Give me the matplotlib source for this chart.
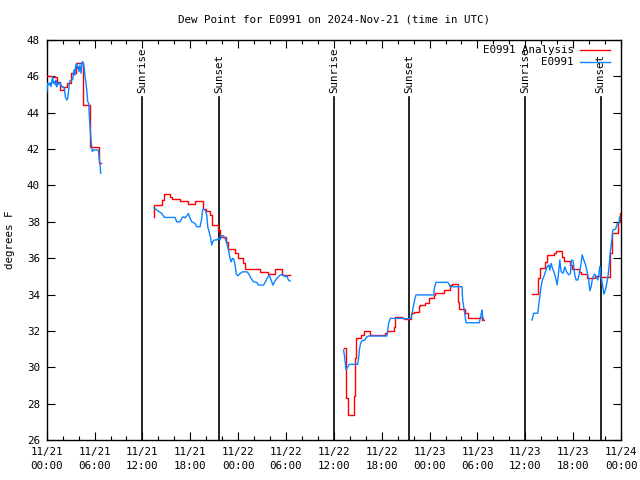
import matplotlib
matplotlib.use("Agg")
import matplotlib.pyplot as plt
from matplotlib.ticker import MultipleLocator

plt.rcParams['font.family'] = ['DejaVu Sans Mono']
FS = 7.8

title = "Dew Point for E0991 on 2024-Nov-21 (time in UTC)"
ylabel = "degrees F"
xtick_hours = [0, 6, 12, 18, 24, 30, 36, 42, 48, 54, 60, 66, 72]
xtick_labels = ["11/21\n00:00", "11/21\n06:00", "11/21\n12:00", "11/21\n18:00",
                "11/22\n00:00", "11/22\n06:00", "11/22\n12:00", "11/22\n18:00",
                "11/23\n00:00", "11/23\n06:00", "11/23\n12:00", "11/23\n18:00",
                "11/24\n00:00"]
sunrise_hours = [12.0, 36.05, 59.95]
sunset_hours = [21.6, 45.45, 69.45]

# Analysis (red), hours since 11/21 00:00 UTC, step series, one list per data segment
red_t = [
    [0, 0.62, 1.25, 1.67, 2.21, 2.51, 3.05, 3.63, 4.6, 5.43, 6.6, 6.8],
    [13.45, 13.5, 14.42, 14.76, 15.47, 15.76, 16.72, 17.68, 18.6, 19.65, 19.94, 20.49,
     20.69, 21.53, 21.74, 22.49, 22.79, 23.62, 24.04, 24.67, 24.88, 26.76, 27.72,
     28.64, 29.56, 30.5],
    [37.22, 37.51, 37.72, 38.47, 38.6, 38.77, 39.44, 39.73, 40.48, 42.45, 42.66,
     43.49, 43.7, 44.54, 44.75, 45.71, 46.0, 46.63, 46.84, 47.47, 47.89, 48.51,
     48.72, 49.77, 50.6, 50.81, 51.57, 51.73, 52.4, 52.82, 54.37, 54.58, 54.79],
    [60.85, 61.56, 61.82, 62.53, 62.74, 63.57, 63.87, 64.62, 64.83, 65.66, 65.87,
     66.71, 67.0, 67.75, 68.8, 69.43, 70.6, 70.85, 71.65, 71.85, 72.0],
]
red_v = [
    [46.04, 45.95, 45.67, 45.25, 45.43, 45.62, 46.17, 46.72, 44.43, 42.13, 41.22, 41.22],
    [38.28, 38.9, 39.2, 39.51, 39.38, 39.25, 39.14, 38.98, 39.14, 38.7, 38.59, 38.37,
     37.82, 37.55, 37.18, 36.9, 36.5, 36.26, 36.02, 35.71, 35.4, 35.22, 35.11,
     35.38, 35.07, 35.07],
    [31.04, 28.29, 27.38, 28.4, 30.49, 31.59, 31.78, 32.01, 31.78, 31.87, 32.01,
     32.2, 32.78, 32.69, 32.64, 32.97, 33.06, 33.37, 33.43, 33.55, 33.79, 33.98,
     34.1, 34.25, 34.53, 34.56, 33.6, 33.19, 32.97, 32.69, 32.78, 32.6, 32.6],
    [34.01, 34.9, 35.44, 35.8, 36.18, 36.27, 36.41, 36.08, 35.85, 35.63, 35.39,
     35.26, 35.13, 34.89, 35.02, 34.95, 36.27, 37.37, 38.01, 38.5, 38.5],
]

# Observations (blue)
blue_t = [
    [0.0, 0.12, 0.29, 0.41, 0.54, 0.67, 0.75, 0.83, 0.96, 1.08, 1.17, 1.25, 1.38, 1.5,
     1.67, 1.79, 1.92, 2.09, 2.21, 2.34, 2.51, 2.63, 2.76, 2.84, 2.92, 3.13, 3.26,
     3.34, 3.43, 3.51, 3.59, 3.68, 3.76, 3.89, 3.97, 4.05, 4.18, 4.3, 4.39, 4.47,
     4.6, 4.68, 4.81, 4.93, 5.02, 5.14, 5.27, 5.35, 5.43, 5.52, 5.64, 5.73, 5.85,
     6.06, 6.27, 6.48, 6.56, 6.69, 6.77],
    [13.46, 13.79, 14.0, 14.21, 14.42, 14.76, 16.09, 16.3, 16.72, 16.93, 17.14, 17.35,
     17.56, 17.77, 17.98, 18.19, 18.6, 18.81, 19.23, 19.44, 19.52, 19.65, 19.86,
     20.07, 20.19, 20.36, 20.53, 20.69, 20.82, 20.99, 21.32, 21.53, 21.74, 21.87,
     22.16, 22.37, 22.58, 22.79, 22.99, 23.12, 23.29, 23.45, 23.62, 23.75, 23.96,
     24.25, 24.54, 25.09, 25.3, 25.63, 25.92, 26.34, 26.55, 27.18, 27.39, 27.64,
     27.89, 28.14, 28.35, 28.56, 28.85, 29.06, 29.27, 29.48, 29.69, 29.9, 30.11,
     30.31, 30.52],
    [37.22, 37.35, 37.51, 37.72, 37.93, 38.98, 39.1, 39.23, 39.35, 39.52, 39.86, 40.15,
     40.36, 42.66, 42.87, 43.08, 44.75, 44.96, 45.71, 45.88, 46.13, 46.3, 48.51,
     48.64, 48.81, 50.31, 50.6, 52.07, 52.15, 52.4, 52.57, 54.24, 54.49, 54.58,
     54.66, 54.79],
    [60.85, 61.06, 61.56, 61.69, 61.82, 61.98, 62.15, 62.32, 62.53, 62.74, 62.95, 63.07,
     63.24, 63.41, 63.57, 63.78, 63.99, 64.12, 64.33, 64.49, 64.74, 64.95, 65.16,
     65.45, 65.66, 65.79, 66.0, 66.21, 66.37, 66.58, 66.79, 67.0, 67.13, 67.34,
     67.55, 67.75, 67.96, 68.09, 68.26, 68.42, 68.67, 68.93, 69.09, 69.22, 69.34,
     69.43, 69.55, 69.68, 69.85, 69.97, 70.18, 70.39, 70.52, 70.68, 70.85, 70.98,
     71.31, 71.52, 71.73, 71.85],
]
blue_v = [
    [45.07, 45.62, 45.53, 45.65, 45.43, 45.8, 45.98, 45.62, 45.71, 45.53, 45.8, 45.43,
     45.62, 45.56, 45.67, 45.53, 45.4, 45.43, 45.34, 44.88, 44.7, 44.79, 45.25,
     45.62, 45.76, 45.8, 45.84, 46.17, 46.35, 46.07, 46.44, 46.63, 46.72, 46.44,
     46.53, 46.26, 46.63, 46.17, 46.53, 46.81, 46.75, 46.53, 45.98, 45.62, 45.25,
     44.61, 44.52, 43.78, 43.23, 42.68, 42.13, 41.86, 41.95, 41.95, 41.95, 41.95,
     41.58, 41.13, 40.67],
    [38.77, 38.65, 38.59, 38.52, 38.46, 38.24, 38.24, 38.0, 38.0, 38.19, 38.28, 38.22,
     38.32, 38.46, 38.19, 38.0, 37.91, 37.73, 37.73, 38.19, 38.65, 38.7, 38.65,
     38.37, 37.73, 37.45, 37.18, 36.72, 36.9, 37.0, 37.0, 37.09, 37.0, 37.23,
     37.23, 37.09, 36.81, 36.45, 35.99, 35.8, 35.99, 35.95, 35.62, 35.16, 35.03,
     35.16, 35.25, 35.25, 35.16, 34.89, 34.7, 34.67, 34.52, 34.52, 34.67, 34.89,
     35.07, 34.8, 34.52, 34.7, 34.89, 34.98, 35.07, 35.11, 35.07, 34.98, 35.03,
     34.8, 34.74],
    [30.95, 30.58, 29.89, 30.0, 30.16, 30.16, 30.49, 31.04, 31.32, 31.45, 31.5, 31.68,
     31.72, 31.72, 32.42, 32.69, 32.69, 32.66, 32.69, 33.15, 33.7, 33.98, 33.98,
     34.43, 34.67, 34.67, 34.43, 34.43, 33.7, 32.97, 32.45, 32.45, 32.97, 33.15,
     32.78, 32.6],
    [32.6, 32.97, 32.97, 33.43, 33.88, 34.43, 34.8, 34.98, 35.26, 35.53, 35.63, 35.35,
     35.72, 35.44, 35.26, 34.98, 34.53, 34.98, 35.9, 35.26, 35.17, 35.53, 35.26,
     35.08, 35.17, 35.9, 35.86, 35.08, 34.8, 34.8, 35.17, 35.72, 36.18, 35.9,
     35.63, 35.26, 34.8, 34.21, 34.43, 34.89, 35.13, 34.98, 34.8, 35.08, 35.53,
     35.26, 34.89, 34.53, 34.03, 34.16, 34.53, 35.08, 35.63, 36.45, 37.0, 37.55,
     37.59, 37.88, 37.95, 38.28],
]

RED = "#ff0000"
BLUE = "#0a84ff"

fig = plt.figure(figsize=(6.4, 4.8), dpi=100)
ax = fig.add_axes([46.7 / 640, 1 - 440 / 480, 574.3 / 640, 400 / 480])

for t, v in zip(red_t, red_v):
    ax.plot(t, v, color=RED, lw=1.0, drawstyle="steps-post", zorder=3)
for t, v in zip(blue_t, blue_v):
    ax.plot(t, v, color=BLUE, lw=1.0, zorder=4)

line_top = 44.85
for h in sunrise_hours:
    ax.plot([h, h], [26, line_top], color="black", lw=1.2, zorder=2)
    ax.text(h, 45.1, "Sunrise", rotation=90, ha="center", va="bottom", fontsize=FS)
for h in sunset_hours:
    ax.plot([h, h], [26, line_top], color="black", lw=1.2, zorder=2)
    ax.text(h, 45.1, "Sunset", rotation=90, ha="center", va="bottom", fontsize=FS)

ax.set_xlim(0, 72)
ax.set_ylim(26, 48)
ax.set_xticks(xtick_hours)
ax.set_xticklabels(xtick_labels, fontsize=FS, linespacing=1.55)
ax.xaxis.set_minor_locator(MultipleLocator(2))
ax.set_yticks(range(26, 49, 2))
ax.tick_params(axis="y", labelsize=FS)
ax.tick_params(which="both", direction="in", top=True, right=True, width=0.8)
ax.tick_params(which="major", length=6, pad=5)
ax.tick_params(which="minor", length=3)
for s in ax.spines.values():
    s.set_linewidth(1.0)

fig.text(334 / 640, 1 - 20 / 480, title, ha="center", va="center", fontsize=FS)
fig.text(10 / 640, 1 - 240 / 480, ylabel, rotation=90, ha="center", va="center", fontsize=FS)

# legend (gnuplot style)
ax.text(0.918, 0.975, "E0991 Analysis", transform=ax.transAxes, ha="right", va="center", fontsize=FS)
ax.plot([0.929, 0.981], [0.975, 0.975], transform=ax.transAxes, color=RED, lw=1.0, clip_on=False)
ax.text(0.918, 0.944, "E0991", transform=ax.transAxes, ha="right", va="center", fontsize=FS)
ax.plot([0.929, 0.981], [0.944, 0.944], transform=ax.transAxes, color=BLUE, lw=1.0, clip_on=False)

fig.savefig("out.png", dpi=100)
